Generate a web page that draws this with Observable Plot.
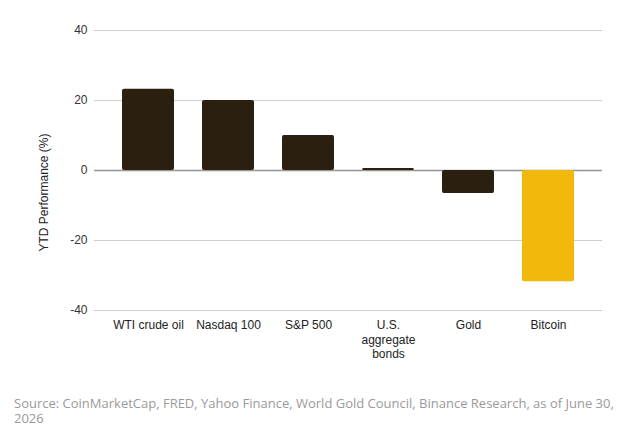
<!DOCTYPE html>
<html>
<head>
<meta charset="utf-8">
<script src="https://cdn.jsdelivr.net/npm/d3@7"></script>
<script src="https://cdn.jsdelivr.net/npm/@observablehq/plot@0.6"></script>
<style>
  body { margin: 0; background: #fff; }
  #caption { font-family: "Open Sans", sans-serif; font-size: 13px; line-height: 15px; color: #9a9a9a; padding: 6px 20px 0 14px; }
  #chart svg, #chart svg text { font-family: "Liberation Sans", Arial, sans-serif; }
</style>
</head>
<body>
<div id="chart"></div>
<div id="caption">Source: CoinMarketCap, FRED, Yahoo Finance, World Gold Council, Binance Research, as of June 30, 2026</div>
<script>
const categories = ["WTI crude oil", "Nasdaq 100", "S&P 500", "U.S. aggregate bonds", "Gold", "Bitcoin"];
const tickLabels = ["WTI crude oil", "Nasdaq 100", "S&P 500", "U.S.\naggregate\nbonds", "Gold", "Bitcoin"];
const values = [23.2, 20.0, 10.0, 0.6, -6.6, -31.8];
const yTicks = [-40, -20, 0, 20, 40];
const yLabel = "YTD Performance (%)";

const data = categories.map((c, i) => ({ name: c, value: values[i], btc: c === "Bitcoin" }));
const labelOf = new Map(categories.map((c, i) => [c, tickLabels[i]]));

const chart = Plot.plot({
  width: 642,
  height: 390,
  marginTop: 30,
  marginBottom: 80,
  marginLeft: 94,
  marginRight: 40,
  style: { fontFamily: "'Liberation Sans', Arial, sans-serif", fontSize: "12px", color: "#333" },
  x: { domain: categories, padding: 0.35, label: null },
  y: { domain: [-40, 40], ticks: yTicks, label: null },
  marks: [
    Plot.gridY(yTicks, { stroke: "#cfcfcf", strokeOpacity: 1, strokeWidth: 1 }),
    Plot.ruleY([0], { stroke: "#949494", strokeWidth: 1.3 }),
    Plot.barY(data, { x: "name", y: "value", fill: d => d.btc ? "#F0B90B" : "#2b2010", rx: 2 }),
    Plot.axisY({ ticks: yTicks, tickSize: 0, tickPadding: 7, label: null, tickFormat: d => String(d), fill: "#333", fontSize: 12 }),
    Plot.axisX({ tickSize: 0, tickPadding: 9, label: null, tickFormat: d => labelOf.get(d), lineHeight: 1.17, fill: "#222", fontSize: 12 }),
    Plot.text([yLabel], { frameAnchor: "left", rotate: -90, dx: -50, dy: 22, textAnchor: "middle", fontSize: 12, fill: "#222" })
  ]
});
document.getElementById("chart").appendChild(chart);
</script>
</body>
</html>
